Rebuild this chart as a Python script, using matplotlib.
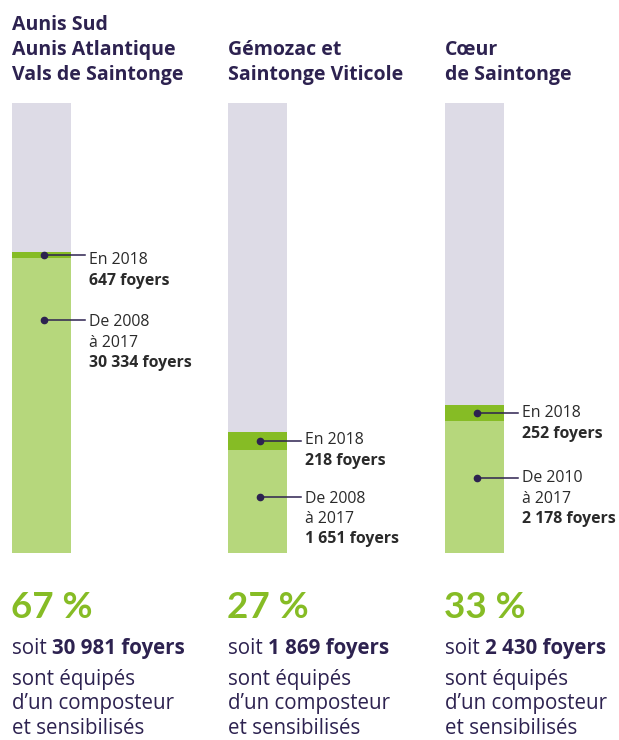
import matplotlib
matplotlib.use('Agg')
import matplotlib.pyplot as plt

# --- data ---
titres = [['Aunis Sud', 'Aunis Atlantique', 'Vals de Saintonge'],
          ['Gémozac et', 'Saintonge Viticole'],
          ['Cœur', 'de Saintonge']]
pct_total = [67, 27, 33]          # % of households equipped (bar height)
pct_2018 = [1.4, 4.2, 3.6]        # dark part of each bar (2018), in %
foyers_2018 = ['647', '218', '252']
debut = ['2008', '2008', '2010']
foyers_avant = ['30 334', '1 651', '2 178']
foyers_total = ['30 981', '1 869', '2 430']

# --- styles / layout (pixels) ---
W, H = 619, 740
grey = '#dddbe6'
light = '#b6d77c'
dark = '#86bc25'
purple = '#2d2250'
txtc = '#2a2a2a'
plt.rcParams['font.family'] = ['Open Sans', 'DejaVu Sans']

bar_left = [12, 228, 445]
bar_w = 59
bar_bottom = 553
bar_h = 450
gap_low = [65, 56, 65]            # px between the two dots
off_up = [9.5, 3.5, 4.5]          # baseline of "En 2018" below its dot
off_low = [6.5, 6, 4.5]

fig = plt.figure(figsize=(W / 100, H / 100), dpi=100)
bg = fig.add_axes([0, 0, 1, 1])
bg.set_xlim(0, W)
bg.set_ylim(H, 0)
bg.axis('off')

px = bar_h / 100.0  # pixels per percent

for i in range(3):
    ax = fig.add_axes([bar_left[i] / W, (H - bar_bottom) / H, bar_w / W, bar_h / H])
    ax.set_xlim(0, 1)
    ax.set_ylim(0, 100)
    ax.axis('off')
    base = pct_total[i] - pct_2018[i]
    ax.bar(0.5, 100, width=1, color=grey)
    ax.bar(0.5, base, width=1, color=light)
    ax.bar(0.5, pct_2018[i], bottom=base, width=1, color=dark)

    y_up = base + pct_2018[i] / 2
    y_low = y_up - gap_low[i] / px
    for y in (y_up, y_low):
        ax.plot([32 / bar_w, 73 / bar_w], [y, y], color=purple, lw=1.1, clip_on=False)
        ax.plot(32 / bar_w, y, 'o', color=purple, ms=4.5, clip_on=False)

    # labels in pixel space
    xl = bar_left[i] + 77
    yu = bar_bottom - y_up * px
    yl = bar_bottom - y_low * px
    fs = 11.4
    bg.text(xl, yu + off_up[i], 'En 2018', fontsize=fs, color=txtc, va='baseline')
    bg.text(xl, yu + off_up[i] + 21, foyers_2018[i] + ' foyers', fontsize=fs,
            color=txtc, va='baseline', fontweight='bold')
    bg.text(xl, yl + off_low[i], 'De ' + debut[i], fontsize=fs, color=txtc, va='baseline')
    bg.text(xl, yl + off_low[i] + 20.5, 'à 2017', fontsize=fs, color=txtc, va='baseline')
    bg.text(xl, yl + off_low[i] + 40.5, foyers_avant[i] + ' foyers', fontsize=fs,
            color=txtc, va='baseline', fontweight='bold')

    # titles, bottom-aligned at y=80
    lines = titres[i]
    for k, t in enumerate(lines):
        yb = 80 - 25 * (len(lines) - 1 - k)
        bg.text(bar_left[i], yb, t, fontsize=14, fontweight='bold', color=purple, va='baseline')

    # bottom block
    x0 = bar_left[i]
    bg.text(x0 - 1, 618, '%d %%' % pct_total[i], fontsize=26.5, fontweight='bold',
            color=dark, va='baseline', family=['Lato', 'DejaVu Sans'])
    fb = 14.8
    t1 = bg.text(x0, 654, 'soit ', fontsize=fb, color=purple, va='baseline')
    fig.canvas.draw()
    bb = t1.get_window_extent()
    wpx = bb.width
    bg.text(x0 + wpx, 654, foyers_total[i] + ' foyers', fontsize=fb, fontweight='bold',
            color=purple, va='baseline')
    for k, t in enumerate(['sont équipés', 'd\u2019un composteur', 'et sensibilisés']):
        bg.text(x0, 684.5 + 25 * k, t, fontsize=fb, color=purple, va='baseline')

fig.savefig('out.png', dpi=100)
